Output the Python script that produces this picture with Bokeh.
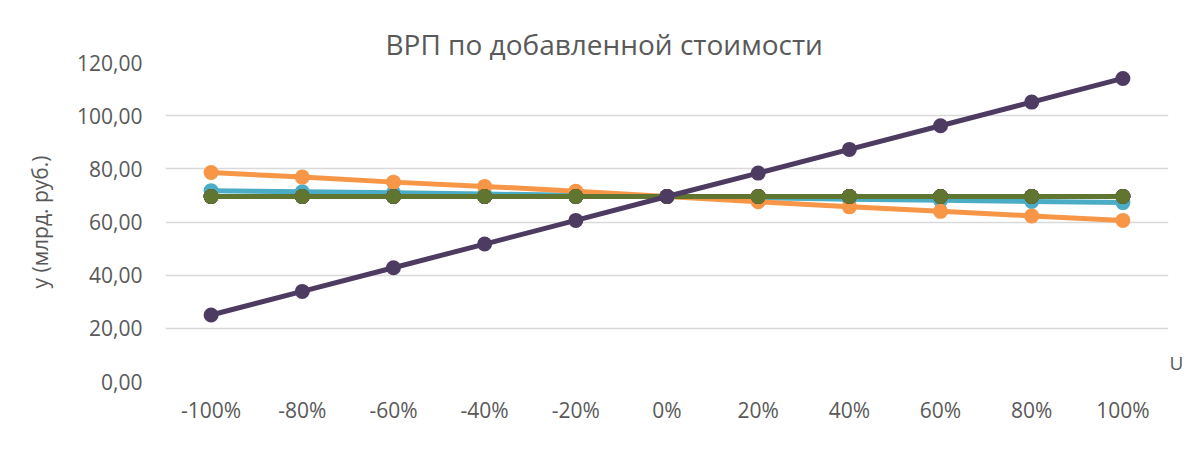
from bokeh.plotting import figure
from bokeh.models import (Legend, LegendItem, FixedTicker, FactorRange, Range1d,
                          LinearAxis)
from bokeh.embed import file_html
from bokeh.resources import INLINE

# ---- data ----
u = ["-100%", "-80%", "-60%", "-40%", "-20%", "0%", "20%", "40%", "60%", "80%", "100%"]
y1 = [69.6, 69.6, 69.6, 69.6, 69.6, 69.6, 69.6, 69.6, 69.6, 69.6, 69.6]
y2 = [69.6, 69.6, 69.6, 69.6, 69.6, 69.6, 69.6, 69.6, 69.6, 69.6, 69.6]
y3 = [69.6, 69.6, 69.6, 69.6, 69.6, 69.6, 69.6, 69.6, 69.6, 69.6, 69.6]
y4 = [69.6, 69.6, 69.6, 69.6, 69.6, 69.6, 69.6, 69.6, 69.6, 69.6, 69.6]
y5 = [71.8, 71.4, 71.0, 70.5, 70.1, 69.6, 69.1, 68.6, 68.2, 67.7, 67.3]
y6 = [78.6, 76.9, 75.0, 73.4, 71.6, 69.6, 67.6, 65.7, 64.0, 62.3, 60.6]
y7 = [69.6, 69.6, 69.6, 69.6, 69.6, 69.6, 69.6, 69.6, 69.6, 69.6, 69.6]
y8 = [69.6, 69.6, 69.6, 69.6, 69.6, 69.6, 69.6, 69.6, 69.6, 69.6, 69.6]
y9 = [69.6, 69.6, 69.6, 69.6, 69.6, 69.6, 69.6, 69.6, 69.6, 69.6, 69.6]
y10 = [25.0, 33.9, 42.8, 51.7, 60.6, 69.6, 78.4, 87.3, 96.2, 105.1, 114.0]

series_names = ["y1", "y2", "y3", "y4", "y5", "y6", "y7", "y8", "y9", "y10"]
series_values = [y1, y2, y3, y4, y5, y6, y7, y8, y9, y10]
colors = ["#C0504D", "#4F81BD", "#9BBB59", "#8064A2", "#4BACC6",
          "#F79646", "#2C4D75", "#772C2A", "#5F7530", "#4D3B62"]

y_ticks = [0, 20, 40, 60, 80, 100, 120]
y_tick_labels = ["0,00", "20,00", "40,00", "60,00", "80,00", "100,00", "120,00"]

title_text = "ВРП по добавленной стоимости"
y_title = "y (млрд. руб.)"
x_title = "U"

FONT = "Open Sans"
TXT = "#595959"

p = figure(
    x_range=FactorRange(*u, range_padding=0),
    y_range=Range1d(0, 120),
    frame_width=1003, frame_height=319, height=443,
    min_border_left=165, min_border_right=8,
    min_border_top=62, min_border_bottom=10,
    output_backend="svg", toolbar_location=None,
)
p.outline_line_color = None
p.background_fill_color = "white"
p.border_fill_color = "white"

# title
p.title.text = title_text
p.title.align = "left"
p.title.offset = 220
p.title.standoff = 0
p.title.text_font = FONT
p.title.text_font_size = "28px"
p.title.text_font_style = "normal"
p.title.text_color = TXT

p.xgrid.visible = False
p.ygrid.grid_line_color = "#D9D9D9"
p.ygrid.grid_line_width = 1.5
p.ygrid.ticker = FixedTicker(ticks=y_ticks)

p.yaxis.ticker = FixedTicker(ticks=y_ticks)
p.yaxis.major_label_overrides = {t: l for t, l in zip(y_ticks, y_tick_labels)}
p.yaxis.axis_label = y_title
p.yaxis.axis_label_text_font = FONT
p.yaxis.axis_label_text_font_size = "21px"
p.yaxis.axis_label_text_font_style = "normal"
p.yaxis.axis_label_text_color = TXT
p.yaxis.axis_label_standoff = 20

# x-axis title "U" at the right end, drawn as the single label of a right-side axis
u_axis = LinearAxis(ticker=FixedTicker(ticks=[7]), major_label_overrides={7: x_title})
p.add_layout(u_axis, "right")

for ax in (p.xaxis[0], p.yaxis[0], u_axis):
    ax.axis_line_color = None
    ax.major_tick_line_color = None
    ax.minor_tick_line_color = None
    ax.major_tick_out = 0
    ax.major_tick_in = 0
    ax.minor_tick_out = 0
    ax.minor_tick_in = 0
    ax.major_label_text_font = FONT
    ax.major_label_text_font_size = "21px"
    ax.major_label_text_color = TXT
p.yaxis.major_label_standoff = 23
p.xaxis.major_label_standoff = 14
u_axis.major_label_standoff = 1
u_axis.major_label_text_font_size = "19px"

items = []
for name, vals, col in zip(series_names, series_values, colors):
    ln = p.line(u, vals, line_color=col, line_width=5, line_join="round")
    sc = p.scatter(u, vals, size=15, fill_color=col, line_color=col, line_width=0)
    items.append(LegendItem(label=name, renderers=[ln, sc]))

legend = Legend(items=items, orientation="horizontal", location=(-11, 0),
                glyph_width=56, glyph_height=20, label_standoff=3, spacing=18,
                padding=0, margin=0, label_width=0, label_height=20,
                label_text_font=FONT, label_text_font_size="20px",
                label_text_color=TXT, background_fill_alpha=0,
                border_line_color=None)
p.add_layout(legend, "below")

open("out.html", "w").write(file_html(p, INLINE))
